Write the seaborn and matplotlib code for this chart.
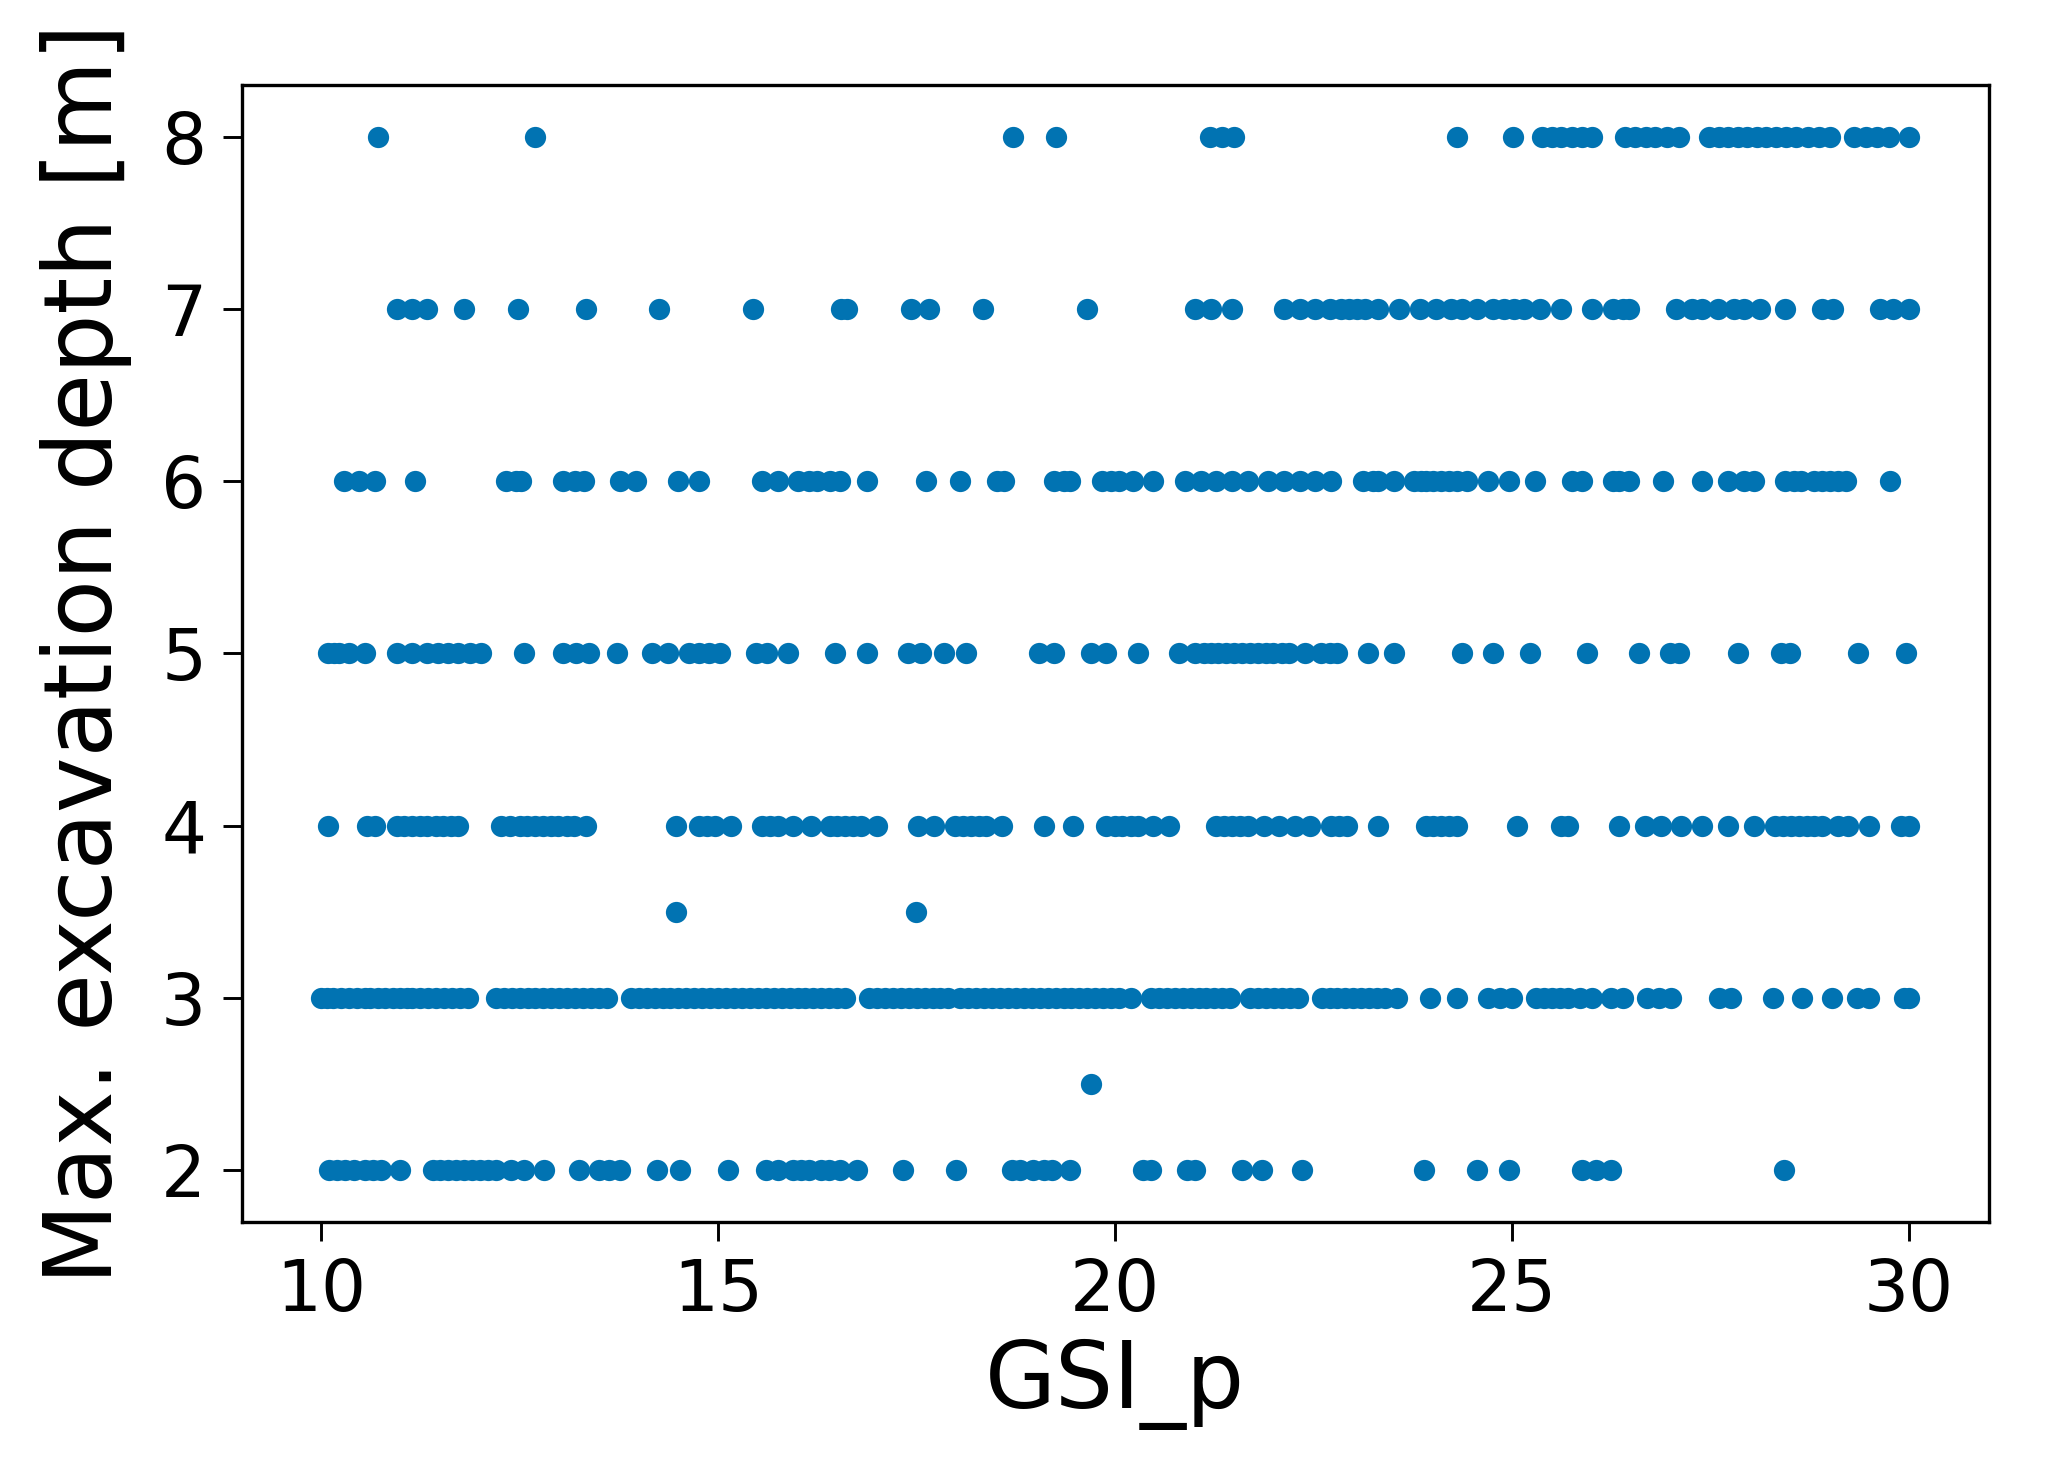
import matplotlib
matplotlib.use("Agg")
import matplotlib.pyplot as plt
import seaborn as sns
import pandas as pd

# GSI_p values for each excavation depth level
gsi_d8 = [10.72, 12.69, 18.72, 19.25, 21.2, 21.35, 21.5, 24.3, 25.01, 25.37, 25.5, 25.62,
          25.75, 25.88, 26.0, 26.42, 26.55, 26.68, 26.8, 26.95, 27.1, 27.48, 27.6, 27.72,
          27.84, 27.96, 28.08, 28.2, 28.32, 28.45, 28.58, 28.72, 28.86, 29.0, 29.3, 29.45,
          29.6, 29.75, 30.0]
gsi_d7 = [10.95, 11.14, 11.34, 11.8, 12.48, 13.34, 14.26, 15.44, 16.55, 16.62, 17.43, 17.66,
          18.33, 19.65, 21.01, 21.21, 21.47, 22.13, 22.33, 22.52, 22.7, 22.85, 22.95, 23.05,
          23.15, 23.31, 23.58, 23.84, 24.04, 24.23, 24.37, 24.56, 24.76, 24.9, 25.02, 25.15,
          25.35, 25.61, 26.01, 26.27, 26.4, 26.47, 27.06, 27.26, 27.39, 27.59, 27.79, 27.92,
          28.12, 28.44, 28.9, 29.04, 29.63, 29.8, 30.0]
gsi_d6 = [10.29, 10.48, 10.68, 11.18, 12.33, 12.45, 12.52, 13.05, 13.2, 13.31, 13.77, 13.97,
          14.5, 14.76, 15.55, 15.75, 16.01, 16.15, 16.25, 16.41, 16.54, 16.87, 17.62, 18.05,
          18.51, 18.6, 19.23, 19.35, 19.43, 19.83, 19.95, 20.05, 20.22, 20.48, 20.88, 21.08,
          21.27, 21.47, 21.67, 21.93, 22.13, 22.33, 22.52, 22.72, 23.12, 23.25, 23.31, 23.51,
          23.77, 23.85, 23.91, 24.0, 24.1, 24.2, 24.3, 24.43, 24.69, 24.96, 25.29, 25.75,
          25.88, 26.27, 26.35, 26.47, 26.9, 27.39, 27.72, 27.92, 28.05, 28.44, 28.55, 28.64,
          28.8, 28.9, 29.0, 29.1, 29.2, 29.76]
gsi_d5 = [10.09, 10.16, 10.22, 10.35, 10.55, 10.95, 11.14, 11.34, 11.47, 11.6, 11.73, 11.87,
          12.02, 12.55, 13.05, 13.21, 13.38, 13.73, 14.17, 14.37, 14.63, 14.76, 14.89, 15.02,
          15.48, 15.62, 15.88, 16.47, 16.87, 17.39, 17.55, 17.85, 18.12, 19.04, 19.23, 19.7,
          19.89, 20.29, 20.81, 21.01, 21.12, 21.21, 21.3, 21.4, 21.5, 21.6, 21.7, 21.8, 21.9,
          21.99, 22.1, 22.19, 22.39, 22.59, 22.7, 22.79, 23.18, 23.51, 24.37, 24.76, 25.22,
          25.94, 26.6, 26.99, 27.1, 27.85, 28.38, 28.5, 29.36, 29.96]
gsi_d4 = [10.09, 10.58, 10.68, 10.95, 11.05, 11.14, 11.25, 11.34, 11.45, 11.54, 11.64, 11.73,
          12.26, 12.38, 12.5, 12.59, 12.7, 12.79, 12.9, 12.98, 13.1, 13.18, 13.34, 14.47,
          14.76, 14.86, 14.96, 15.16, 15.55, 15.65, 15.75, 15.94, 16.17, 16.41, 16.5, 16.6,
          16.7, 16.8, 17.0, 17.52, 17.72, 17.98, 18.08, 18.18, 18.28, 18.38, 18.58, 19.1,
          19.47, 19.89, 20.0, 20.09, 20.2, 20.29, 20.48, 20.68, 21.27, 21.37, 21.47, 21.57,
          21.67, 21.87, 22.06, 22.26, 22.46, 22.72, 22.82, 22.92, 23.31, 23.91, 24.0, 24.1,
          24.2, 24.3, 25.06, 25.61, 25.7, 26.34, 26.67, 26.87, 27.13, 27.39, 27.72, 28.05,
          28.31, 28.41, 28.51, 28.61, 28.71, 28.8, 28.9, 29.1, 29.23, 29.5, 29.9, 30.0]
gsi_d3 = [10.0, 10.08, 10.15, 10.25, 10.35, 10.45, 10.55, 10.62, 10.72, 10.8, 10.9, 11.0,
          11.08, 11.15, 11.25, 11.35, 11.45, 11.55, 11.65, 11.75, 11.85, 12.2, 12.3, 12.4,
          12.5, 12.6, 12.7, 12.8, 12.9, 13.0, 13.1, 13.2, 13.3, 13.4, 13.5, 13.6, 13.9, 14.0,
          14.1, 14.2, 14.3, 14.4, 14.5, 14.6, 14.7, 14.8, 14.9, 15.0, 15.1, 15.2, 15.3, 15.4,
          15.5, 15.6, 15.7, 15.8, 15.9, 16.0, 16.1, 16.2, 16.3, 16.4, 16.5, 16.6, 16.9, 17.0,
          17.1, 17.2, 17.3, 17.4, 17.5, 17.6, 17.7, 17.8, 17.9, 18.05, 18.15, 18.25, 18.35,
          18.45, 18.55, 18.65, 18.75, 18.85, 18.95, 19.05, 19.15, 19.25, 19.35, 19.45, 19.55,
          19.65, 19.75, 19.85, 19.95, 20.05, 20.2, 20.45, 20.55, 20.65, 20.75, 20.85, 20.95,
          21.05, 21.15, 21.25, 21.35, 21.45, 21.7, 21.8, 21.9, 22.0, 22.1, 22.2, 22.3, 22.6,
          22.7, 22.8, 22.9, 23.0, 23.1, 23.2, 23.3, 23.4, 23.55, 23.97, 24.3, 24.7, 24.85,
          25.0, 25.3, 25.4, 25.5, 25.6, 25.7, 25.85, 26.0, 26.25, 26.4, 26.7, 26.85, 27.0,
          27.6, 27.75, 28.28, 28.65, 29.03, 29.34, 29.5, 29.93, 30.0]
gsi_d2 = [10.1, 10.2, 10.3, 10.42, 10.55, 10.65, 10.75, 10.99, 11.41, 11.5, 11.6, 11.7,
          11.8, 11.9, 12.0, 12.1, 12.2, 12.39, 12.55, 12.81, 13.25, 13.5, 13.62, 13.77, 14.23,
          14.52, 15.12, 15.6, 15.75, 15.94, 16.05, 16.14, 16.3, 16.4, 16.54, 16.75, 17.33,
          18.0, 18.7, 18.8, 18.97, 19.1, 19.2, 19.43, 20.35, 20.45, 20.9, 21.0, 21.6, 21.85,
          22.35, 23.89, 24.56, 24.96, 25.88, 26.05, 26.25, 28.42]
gsi_d35 = [14.47, 17.49]
gsi_d25 = [19.7]

depth_levels = [8, 7, 6, 5, 4, 3, 2, 3.5, 2.5]
gsi_series = [gsi_d8, gsi_d7, gsi_d6, gsi_d5, gsi_d4, gsi_d3, gsi_d2, gsi_d35, gsi_d25]

x_ticks = [10, 15, 20, 25, 30]
y_ticks = [2, 3, 4, 5, 6, 7, 8]

rows = []
for d, g in zip(depth_levels, gsi_series):
    for v in g:
        rows.append((v, d))
df = pd.DataFrame(rows, columns=["GSI_p", "depth"])

sns.set_style("ticks")
plt.rcParams["font.family"] = ["DejaVu Sans"]

fig = plt.figure(figsize=(2048 / 300, 1470 / 300), dpi=300)
ax = fig.add_axes([0.118, 0.169, 0.853, 0.773])
sns.scatterplot(data=df, x="GSI_p", y="depth", ax=ax, color="#0173B2",
                s=26, linewidth=0, alpha=1.0)
ax.set_xlim(9.0, 31.0)
ax.set_ylim(1.7, 8.3)
ax.set_xticks(x_ticks)
ax.set_yticks(y_ticks)
ax.tick_params(labelsize=17, width=0.7, length=4.5, pad=4, color="black", labelcolor="black")
for sp in ax.spines.values():
    sp.set_visible(True)
    sp.set_linewidth(0.8)
    sp.set_color("black")
ax.set_xlabel("GSI_p", fontsize=22, color="black", labelpad=3)
ax.set_ylabel("Max. excavation depth [m]", fontsize=22.5, color="black", labelpad=7)
fig.savefig("out.png", dpi=300, facecolor="white")
